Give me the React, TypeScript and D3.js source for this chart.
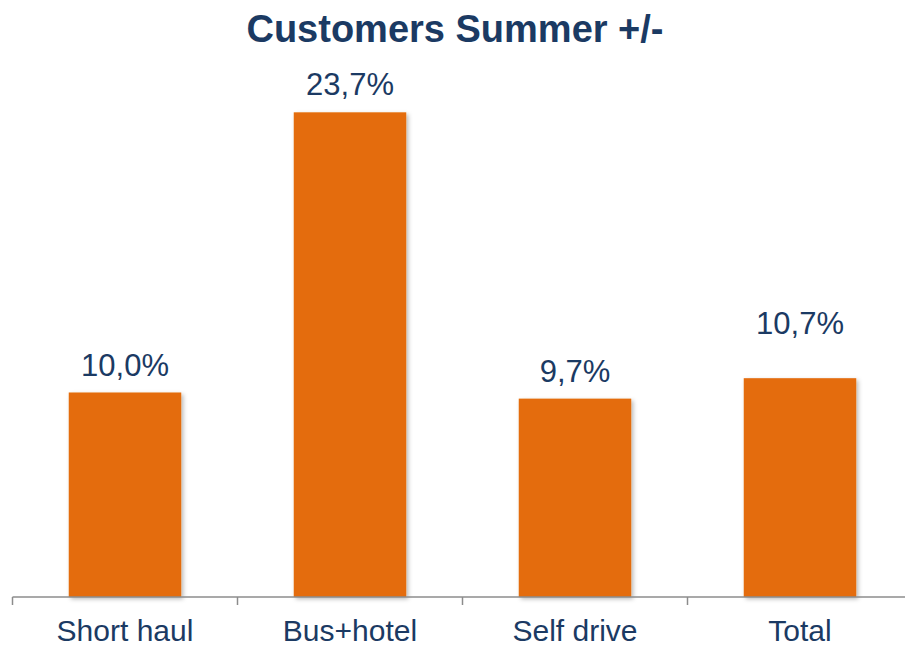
import React from 'react';
import * as d3 from 'd3';

// chart data
const categories = ['Short haul', 'Bus+hotel', 'Self drive', 'Total'];
const changes = [10.0, 23.7, 9.7, 10.7];
const valueLabels = ['10,0%', '23,7%', '9,7%', '10,7%'];
const chartTitle = 'Customers Summer +/-';

const width = 905;
const height = 647;
const baseline = 597;
const barColor = '#E46C0A';
const textColor = '#1B3A63';
const axisColor = '#8C8C8C';

const App = () => {
    // band scale for category slots, bars take the middle half of each slot
    const xScale = d3.scaleBand<string>()
        .domain(categories)
        .range([12.5, 912.5])
        .padding(0);

    const yScale = d3.scaleLinear()
        .domain([0, 25])
        .range([baseline, baseline - 25 * 20.45]);

    const barWidth = xScale.bandwidth() * 0.5;
    const tickXs = [...categories.map(c => xScale(c) as number), 912.5];

    return (
        <svg
            width={width}
            height={height}
            style={{ position: 'absolute', left: 0, top: 0, display: 'block' }}
            fontFamily="'Liberation Sans', Arial, sans-serif"
        >
            <defs>
                <filter id="shadow" x="-10%" y="-10%" width="130%" height="130%">
                    <feDropShadow dx="2" dy="2" stdDeviation="2" floodColor="#000" floodOpacity="0.28" />
                </filter>
            </defs>

            <text x={455} y={42} textAnchor="middle" fontSize={38} fontWeight="bold" fill={textColor}>
                {chartTitle}
            </text>

            {/* bars */}
            {categories.map((c, i) => {
                const x = (xScale(c) as number) + (xScale.bandwidth() - barWidth) / 2;
                const y = yScale(changes[i]);
                return (
                    <rect
                        key={c}
                        x={x}
                        y={y}
                        width={barWidth}
                        height={baseline - y}
                        fill={barColor}
                        filter="url(#shadow)"
                    />
                );
            })}

            {/* value labels, the Total label sits higher in the original */}
            {categories.map((c, i) => {
                const cx = (xScale(c) as number) + xScale.bandwidth() / 2;
                const gap = c === 'Total' ? 44 : 17;
                return (
                    <text key={c} x={cx} y={yScale(changes[i]) - gap} textAnchor="middle" fontSize={31} fill={textColor}>
                        {valueLabels[i]}
                    </text>
                );
            })}

            {/* x axis */}
            <line x1={12.5} x2={912.5} y1={baseline} y2={baseline} stroke={axisColor} strokeWidth={1.5} />
            {tickXs.map((x, i) => (
                <line key={i} x1={x} x2={x} y1={baseline} y2={baseline + 8} stroke={axisColor} strokeWidth={1.5} />
            ))}
            {categories.map(c => (
                <text
                    key={c}
                    x={(xScale(c) as number) + xScale.bandwidth() / 2}
                    y={641}
                    textAnchor="middle"
                    fontSize={30}
                    fill={textColor}
                >
                    {c}
                </text>
            ))}
        </svg>
    );
};

export default App;
